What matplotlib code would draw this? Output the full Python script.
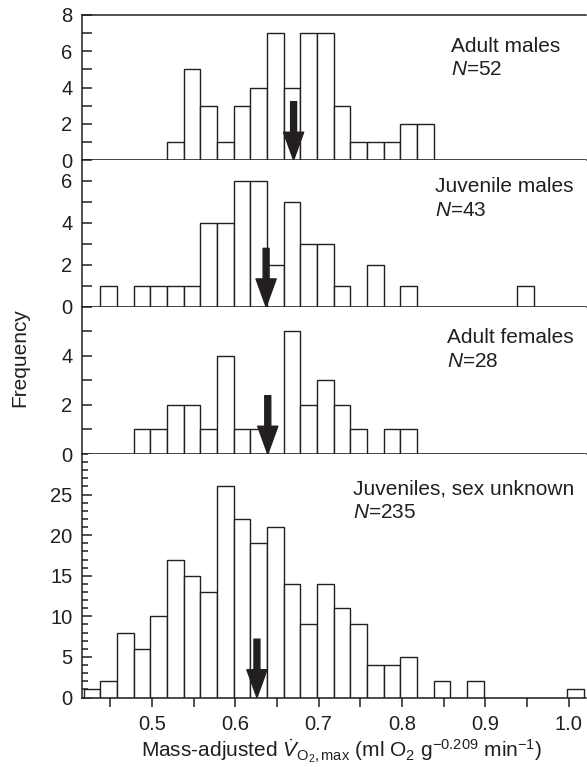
import numpy as np
import matplotlib
matplotlib.use("Agg")
import matplotlib.pyplot as plt

plt.rcParams['font.family'] = ['Liberation Sans', 'DejaVu Sans']
plt.rcParams['mathtext.fontset'] = 'custom'
plt.rcParams['mathtext.rm'] = 'Liberation Sans'
plt.rcParams['mathtext.it'] = 'Liberation Sans:italic'
plt.rcParams['mathtext.bf'] = 'Liberation Sans:bold'

# histogram bins (0.02 wide)
bin_start = 0.418
bin_width = 0.02
n_bins = 30

groups = ["Adult males", "Juvenile males", "Adult females", "Juveniles, sex unknown"]
n_obs = [52, 43, 28, 235]

adult_males = [0, 0, 0, 0, 0, 1, 5, 3, 1, 3, 4, 7, 4, 7, 7,
               3, 1, 1, 1, 2, 2, 0, 0, 0, 0, 0, 0, 0, 0, 0]
juvenile_males = [0, 1, 0, 1, 1, 1, 1, 4, 4, 6, 6, 2, 5, 3, 3,
                  1, 0, 2, 0, 1, 0, 0, 0, 0, 0, 0, 1, 0, 0, 0]
adult_females = [0, 0, 0, 1, 1, 2, 2, 1, 4, 1, 1, 0, 5, 2, 3,
                 2, 1, 0, 1, 1, 0, 0, 0, 0, 0, 0, 0, 0, 0, 0]
juveniles = [1, 2, 8, 6, 10, 17, 15, 13, 26, 22, 19, 21, 14, 9, 14,
             11, 9, 4, 4, 5, 0, 2, 0, 2, 0, 0, 0, 0, 0, 1]
counts = [adult_males, juvenile_males, adult_females, juveniles]

# group means (arrows)
means = [0.670, 0.637, 0.639, 0.626]

y_max = [8, 7, 6, 30]
y_major = [[0, 2, 4, 6, 8], [0, 2, 4, 6], [0, 2, 4], [0, 5, 10, 15, 20, 25]]

ink = '#231f20'
W, H = 587, 767
fig = plt.figure(figsize=(W / 100, H / 100), dpi=100)

# panel edges in pixels (top, bottom)
rows = [(15, 160), (160, 306.7), (306.7, 454), (454, 697.5)]
x0, x1 = 82, 586
# label anchor (x, baseline y) in pixels
label_pos = [(450.7, 51.7), (435, 192), (446.7, 343.3), (352.7, 494.3)]

lefts = bin_start + bin_width * np.arange(n_bins)

for i in range(4):
    top, bot = rows[i]
    ax = fig.add_axes([x0 / W, 1 - bot / H, (x1 - x0) / W, (bot - top) / H])
    ax.bar(lefts, counts[i], width=bin_width, align='edge',
           facecolor='white', edgecolor=ink, linewidth=1.0, zorder=2)
    ax.set_xlim(0.416, 1.021)
    ax.set_ylim(0, y_max[i])

    ax.spines['right'].set_visible(False)
    if i > 0:
        ax.spines['top'].set_visible(False)
    for s in ['left', 'bottom', 'top']:
        ax.spines[s].set_color(ink)
        ax.spines[s].set_linewidth(1.1)

    ax.set_yticks(y_major[i])
    ax.set_yticks(np.arange(0, y_max[i] + 1, 1), minor=True)
    if i < 3:
        ax.tick_params(axis='y', which='both', direction='in', length=7,
                       width=1.1, color=ink, labelsize=14.5, pad=7)
    else:
        ax.tick_params(axis='y', which='major', direction='in', length=7,
                       width=1.1, color=ink, labelsize=14.5, pad=7)
        ax.tick_params(axis='y', which='minor', direction='in', length=4,
                       width=1.1, color=ink)
    ax.tick_params(axis='y', labelcolor=ink)

    if i < 3:
        ax.tick_params(axis='x', which='both', bottom=False, labelbottom=False)
    else:
        ax.set_xticks([0.5, 0.6, 0.7, 0.8, 0.9, 1.0])
        ax.set_xticklabels(['0.5', '0.6', '0.7', '0.8', '0.9', '1.0'])
        ax.set_xticks(np.arange(0.45, 1.0, 0.1), minor=True)
        ax.tick_params(axis='x', which='both', direction='out', length=6.5,
                       width=1.1, color=ink, labelsize=14.5, labelcolor=ink, pad=6)

    ax.annotate('', xy=(means[i], 0), xytext=(0, 42), textcoords='offset points',
                arrowprops=dict(facecolor=ink, edgecolor=ink, width=4.3,
                                headwidth=14.5, headlength=20, shrink=0),
                zorder=5)

    lx, ly = label_pos[i]
    fig.text(lx / W, 1 - ly / H, groups[i], fontsize=15, color=ink, va='baseline')
    fig.text(lx / W, 1 - (ly + 23.5) / H, r'$N$=%d' % n_obs[i], fontsize=15,
             color=ink, va='baseline')

fig.text(20 / W, 1 - 358 / H, 'Frequency', rotation=90, fontsize=15, color=ink,
         ha='center', va='center')
fig.text(342 / W, 1 - 751 / H,
         r'Mass-adjusted $\dot{V}_{\mathrm{O_2,max}}$ (ml O$_2$ g$^{-0.209}$ min$^{-1}$)',
         fontsize=15, color=ink, ha='center', va='center')

fig.savefig('out.png', dpi=100)
